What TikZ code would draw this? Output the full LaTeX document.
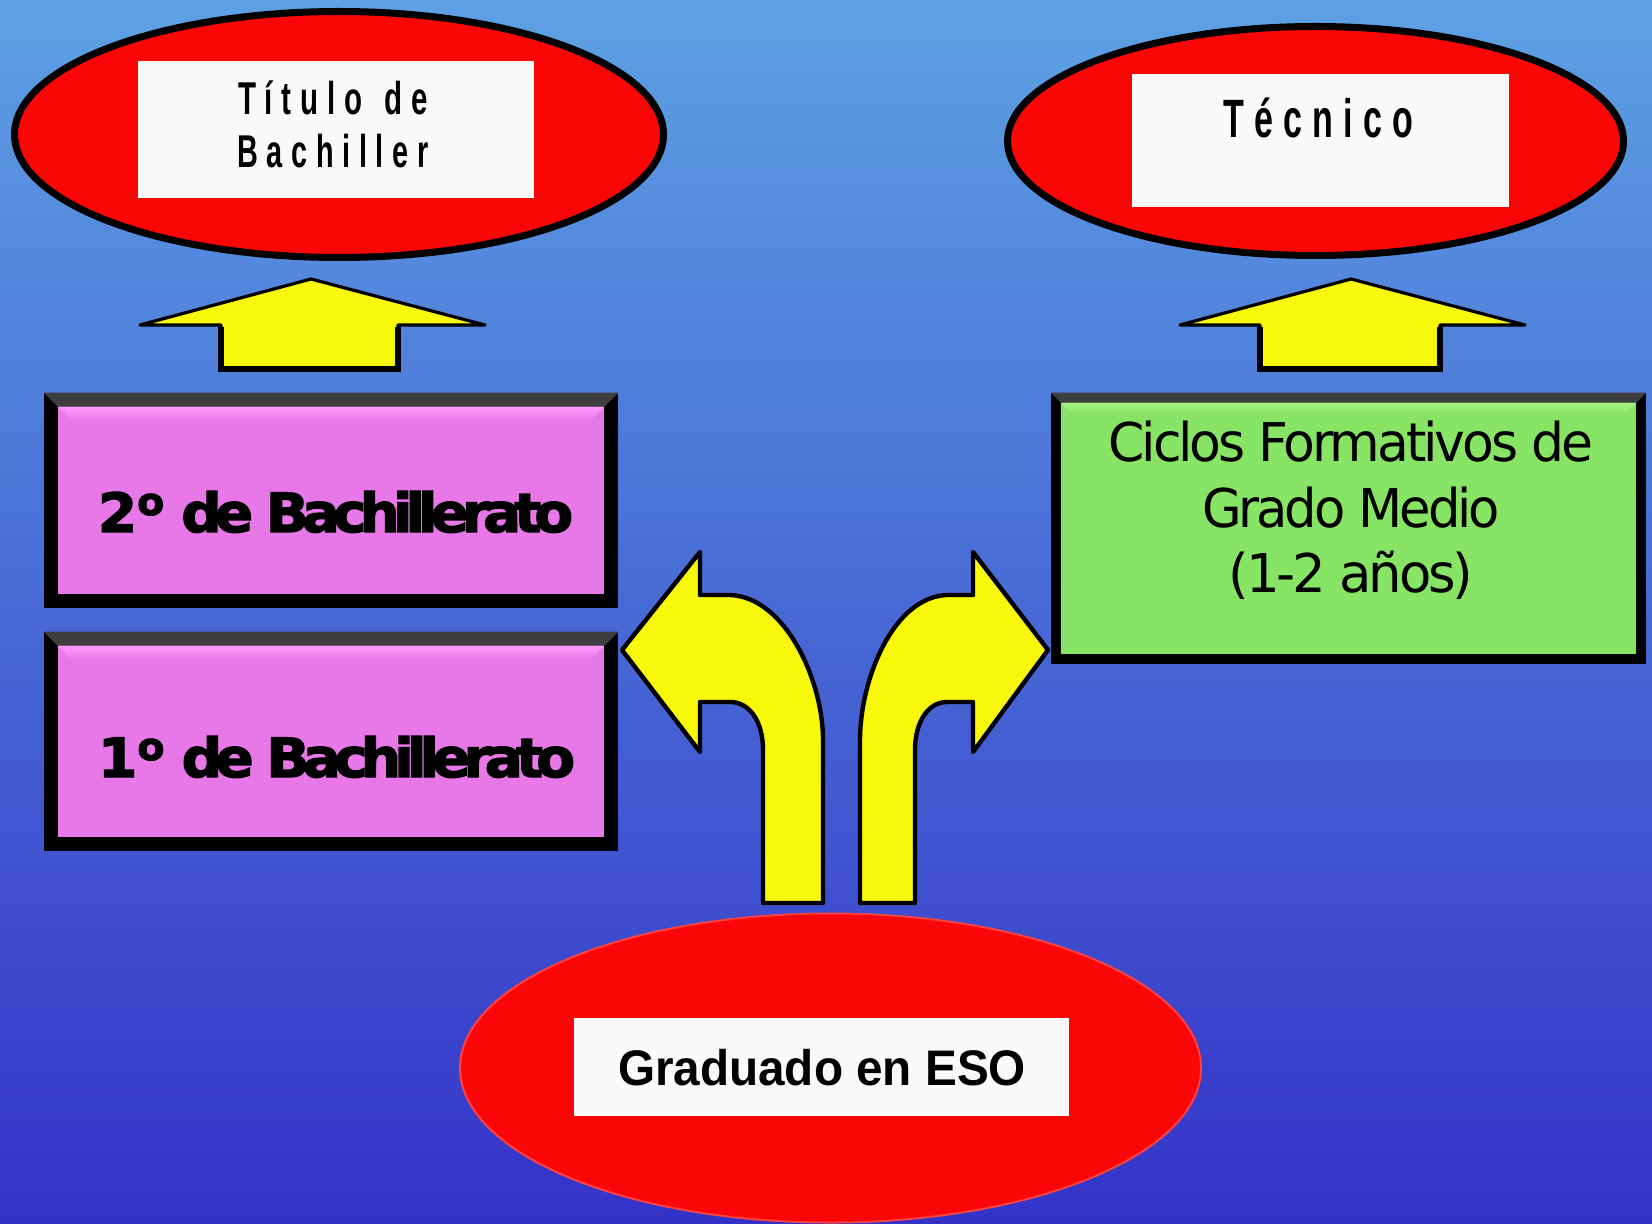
\documentclass[tikz,border=0pt]{standalone}
\usepackage{fontspec}
\usepackage{graphicx}
\usetikzlibrary{shapes.geometric}
\newfontfamily\titfont{Liberation Sans}[LetterSpace=30]
\newfontfamily\bachfont{DejaVu Sans}[UprightFont=* Bold, LetterSpace=-12, FakeBold=2.5]
\newfontfamily\cicfont{DejaVu Sans}[LetterSpace=-6]
\newfontfamily\gradfont{Liberation Sans}
\definecolor{bgtop}{RGB}{93,161,227}
\definecolor{bgmid}{RGB}{67,108,214}
\definecolor{bgbot}{RGB}{51,50,200}
\definecolor{redf}{RGB}{250,6,6}
\definecolor{boxwhite}{RGB}{250,250,250}
\definecolor{yel}{RGB}{248,248,10}
\definecolor{pinkface}{RGB}{232,120,232}
\definecolor{pinkhi}{RGB}{255,156,255}
\definecolor{greenface}{RGB}{136,228,100}
\definecolor{greenhi}{RGB}{170,245,140}
\definecolor{frametop}{RGB}{62,62,62}
\newcommand\fitw[2]{\resizebox{#1}{\height}{#2}}
% bevelled box: #1 name, #2 face colour, #3 highlight colour, #4 frame thickness
\newcommand\bevbox[4]{%
  \fill[frametop] (#1.north west) -- (#1.north east) -- ([shift={(-#4,-#4)}]#1.north east) -- ([shift={(#4,-#4)}]#1.north west) -- cycle;
  \fill[#2] ([shift={(#4,-#4)}]#1.north west) rectangle ([shift={(-#4,#4)}]#1.south east);
  \shade[top color=#3, bottom color=#2] ([shift={(#4,-#4)}]#1.north west) -- ([shift={(-#4,-#4)}]#1.north east) -- ([shift={(-2*#4,-2*#4)}]#1.north east) -- ([shift={(2*#4,-2*#4)}]#1.north west) -- cycle;
}
\newcommand\ordo{\raisebox{8.5pt}{\fontsize{19}{19}\selectfont o}}
\begin{document}
\begin{tikzpicture}[x=0.5pt,y=-0.5pt,
  redell/.style={ellipse, draw=black, line width=3.5pt, fill=redf, inner sep=0pt},
  whitebox/.style={rectangle, fill=boxwhite, inner sep=0pt},
  frame/.style={rectangle, fill=black, inner sep=0pt},
  txt/.style={anchor=base, inner sep=0pt},
  yarrow/.style={fill=yel, draw=black, line width=1.6pt, line join=round},
  carrow/.style={fill=yel, draw=black, line width=2.2pt, line join=round}]
\useasboundingbox (0,0) rectangle (1652,1224);
\shade[top color=bgtop, middle color=bgmid, bottom color=bgbot] (0,0) rectangle (1652,1224);

% top ellipses
\node[redell, minimum width=324.5pt, minimum height=123pt] (ell1) at (339,134.5) {};
\node[whitebox, minimum width=198pt, minimum height=68.5pt] (wb1) at (336,129.5) {};
\node[txt] (t1) at (333,115) {\fitw{95pt}{\titfont\bfseries\fontsize{23}{23}\selectfont Título\hspace{4pt} de}};
\node[txt] (t2) at (333,168) {\fitw{95.5pt}{\titfont\bfseries\fontsize{23}{23}\selectfont Bachiller}};

\node[redell, minimum width=308pt, minimum height=114.5pt] (ell2) at (1315.5,141) {};
\node[whitebox, minimum width=188.5pt, minimum height=66.5pt] (wb2) at (1320.5,140.5) {};
\node[txt] (t3) at (1318,138) {\fitw{95pt}{\titfont\bfseries\fontsize{27}{27}\selectfont Técnico}};

% up arrows
\draw[yarrow] (311,279) -- (485,325) -- (398,325) -- (398,369) -- (221,369) -- (221,325) -- (140,325) -- cycle;
\draw[line width=3pt] (221,327) -- (221,369) -- (398,369) -- (398,327);
\draw[yarrow] (1351,279) -- (1525,325) -- (1440,325) -- (1440,369) -- (1260,369) -- (1260,325) -- (1180,325) -- cycle;
\draw[line width=3pt] (1260,327) -- (1260,369) -- (1440,369) -- (1440,327);

% pink boxes
\node[frame, minimum width=287pt, minimum height=107.5pt] (b2) at (331,500.5) {};
\bevbox{b2}{pinkface}{pinkhi}{7pt}
\node[txt] (t4) at (335.5,532) {\fitw{237.5pt}{\bachfont\fontsize{27}{27}\selectfont 2\ordo\hspace{2pt} de Bachillerato}};

\node[frame, minimum width=287pt, minimum height=109.5pt] (b1) at (331,741.5) {};
\bevbox{b1}{pinkface}{pinkhi}{7pt}
\node[txt] (t5) at (336.5,777) {\fitw{238.5pt}{\bachfont\fontsize{27}{27}\selectfont 1\ordo\hspace{2pt} de Bachillerato}};

% green box
\node[frame, minimum width=297.5pt, minimum height=135.5pt] (gb) at (1348.5,528.5) {};
\bevbox{gb}{greenface}{greenhi}{5pt}
\node[txt] (c1) at (1351,462) {\fitw{242.5pt}{\cicfont\fontsize{26.7}{26.7}\selectfont Ciclos Formativos de}};
\node[txt] (c2) at (1351,527) {\fitw{149pt}{\cicfont\fontsize{26.7}{26.7}\selectfont Grado Medio}};
\node[txt] (c3) at (1351,592) {\fitw{122.5pt}{\cicfont\fontsize{26.7}{26.7}\selectfont (1-2 años)}};

% curved arrows
\draw[carrow] (622,650) -- (700,552) -- (700,595) -- (730,595) .. controls (785,597) and (823,680) .. (823,740) -- (823,903) -- (763,903) -- (763,750) .. controls (763,722) and (750,702) .. (730,702) -- (700,702) -- (700,752) -- cycle;
\draw[carrow] (1048,650) -- (973,552) -- (973,595) -- (947,595) .. controls (893,597) and (860,680) .. (860,740) -- (860,903) -- (915,903) -- (915,750) .. controls (915,722) and (928,702) .. (947,702) -- (973,702) -- (973,752) -- cycle;

% bottom ellipse
\node[ellipse, fill=redf, draw=red!75!white, line width=1pt, inner sep=0pt, minimum width=370.5pt, minimum height=154.5pt] (ell3) at (830.5,1068) {};
\node[whitebox, minimum width=247.5pt, minimum height=49pt] (wb3) at (821.5,1067) {};
\node[txt] (g) at (822,1085) {\fitw{204pt}{\gradfont\bfseries\fontsize{25}{25}\selectfont Graduado en ESO}};
\end{tikzpicture}
\end{document}
